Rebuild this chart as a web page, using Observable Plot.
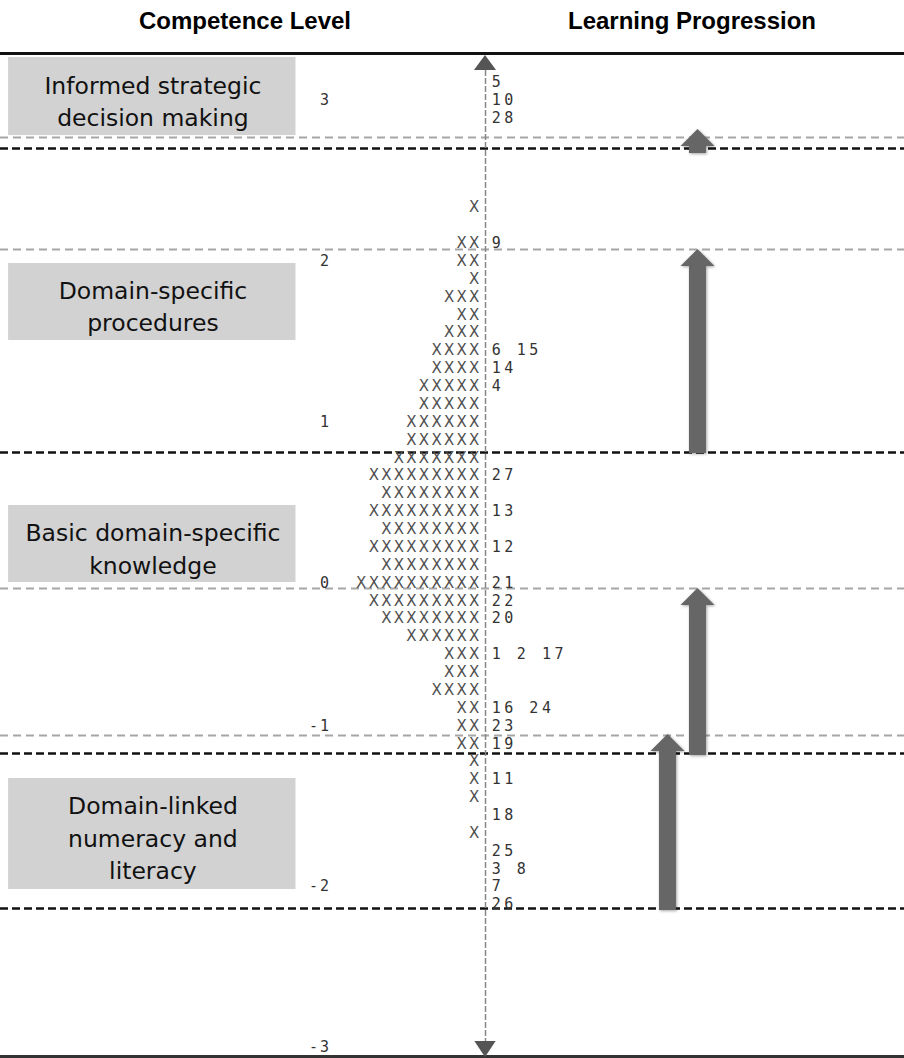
<!DOCTYPE html>
<html>
<head>
<meta charset="utf-8">
<script src="https://cdn.jsdelivr.net/npm/d3@7"></script>
<script src="https://cdn.jsdelivr.net/npm/@observablehq/plot@0.6"></script>
<style>
  html, body { margin: 0; padding: 0; background: #fff; }
  #header { position: relative; width: 904px; height: 44px; font-family: "Liberation Sans", Arial, sans-serif; font-weight: bold; font-size: 24px; color: #000; }
  #header span { position: absolute; top: 9px; line-height: 24px; transform: translateX(-50%); white-space: nowrap; }
  g[aria-description="mono"] text { letter-spacing: 3.5px; }
  g[aria-description="ticks"] text { letter-spacing: 2px; }
  g[aria-description="arrows"] { filter: drop-shadow(1px 1px 1.5px rgba(0,0,0,0.35)); }
</style>
</head>
<body>
<div id="header"><span style="left:245px">Competence Level</span><span style="left:692px">Learning Progression</span></div>
<div id="chart"></div>
<script>
// ---------- DATA (rows of the Wright map, top to bottom) ----------
// number of X's (persons) per row
const xCounts = [0,0,0,0,0,0,0,1,0,2,
                 2,1,3,2,3,4,4,5,5,6,
                 6,7,9,8,9,8,9,8,10,9,
                 8,6,3,3,4,2,2,2,1,1,
                 1,0,1,0,0,0,0];
// item numbers per row
const itemLabels = ["5","10","28","","","","","","","9",
                    "","","","","","6 15","14","4","","",
                    "","","27","","13","","12","","21","22",
                    "20","","1 2 17","","","16 24","23","19","","11",
                    "","18","","25","3 8","7","26"];
// logit tick labels and the rows they sit on
const tickRows   = [1, 10, 19, 28, 36, 45, 54];
const tickLabels = ["3", "2", "1", "0", "-1", "-2", "-3"];
// competence level boundaries (black dashed) and item thresholds (grey dashed), in rows
const levelCuts  = [3.69, 20.70, 37.55, 46.22];
const thresholds = [3.08, 9.35, 28.32, 36.54];
// competence levels
const levelNames = ["Informed strategic\ndecision making", "Domain-specific\nprocedures",
                    "Basic domain-specific\nknowledge", "Domain-linked\nnumeracy and\nliteracy"];
// learning progression arrows: from (row) -> to (row)
const arrowFrom = [3.97, 20.76, 37.66, 46.33];
const arrowTo   = [2.63, 9.35, 28.32, 36.49];

// ---------- LAYOUT ----------
const W = 904, H = 1014;
const COL = 12.55, AXIS_PX = 485;      // character column width, axis position
const ROW = 17.87, ROW0 = 38;          // row height, y of first row
const boxTop = [-1.40, 10.13, 23.67, 38.95];
const boxBottom = [2.97, 14.44, 27.98, 45.16];
const boxText = [0.95, 12.42, 26.0, 42.19];
const boxX1 = -38.0, boxX2 = -15.1, boxCx = -26.5;
const arrowCol = [16.93, 16.93, 16.93, 14.54];
const HEAD_HALF = 17 / COL, SHAFT_HALF = 8.5 / COL, HEAD_LEN = 17 / ROW;

const xMarks = xCounts.flatMap((n, r) => d3.range(n).map(k => ({row: r, col: -(k + 1) + 0.1})));
const items = itemLabels.map((s, r) => ({row: r, label: s})).filter(d => d.label);
const ticks = tickRows.map((r, i) => ({row: r, label: tickLabels[i]}));
const boxes = levelNames.map((name, i) => ({name, top: boxTop[i], bottom: boxBottom[i], mid: boxText[i]}));
const arrowPts = arrowFrom.flatMap((from, i) => {
  const c = arrowCol[i], to = arrowTo[i];
  return [
    {id: i, y: to, x1: c, x2: c},
    {id: i, y: to + HEAD_LEN, x1: c - HEAD_HALF, x2: c + HEAD_HALF},
    {id: i, y: to + HEAD_LEN, x1: c - SHAFT_HALF, x2: c + SHAFT_HALF},
    {id: i, y: from, x1: c - SHAFT_HALF, x2: c + SHAFT_HALF}
  ];
});
const triPts = [
  {id: "up", y: -1.51, x1: 0, x2: 0}, {id: "up", y: -0.67, x1: -0.88, x2: 0.88},
  {id: "down", y: 53.67, x1: -0.85, x2: 0.85}, {id: "down", y: 54.56, x1: 0, x2: 0}
];

const plot = Plot.plot({
  width: W, height: H,
  marginLeft: 0, marginRight: 0, marginTop: 0, marginBottom: 0,
  style: {background: "white", overflow: "visible"},
  x: {domain: [-AXIS_PX / COL, (W - AXIS_PX) / COL], range: [0, W], axis: null},
  y: {domain: [0, 46], range: [ROW0, ROW0 + 46 * ROW], axis: null},
  marks: [
    Plot.ruleY(thresholds, {stroke: "#a6a6a6", strokeWidth: 2, strokeDasharray: "8,5"}),
    Plot.ruleY(levelCuts, {stroke: "#111", strokeWidth: 2.5, strokeDasharray: "8,4"}),
    Plot.ruleY([-1.62], {stroke: "#111", strokeWidth: 3}),
    Plot.ruleY([54.5], {stroke: "#333", strokeWidth: 3}),
    Plot.ruleX([0], {y1: -0.67, y2: 53.67, stroke: "#888", strokeWidth: 1.5, strokeDasharray: "6,2"}),
    Plot.areaX(triPts, {y: "y", x1: "x1", x2: "x2", z: "id", fill: "#555"}),
    Plot.rect(boxes, {x1: boxX1, x2: boxX2, y1: "top", y2: "bottom", fill: "#d2d2d2"}),
    Plot.text(boxes, {x: boxCx, y: "mid", text: "name", fontFamily: "DejaVu Sans", fontSize: 23.5, lineHeight: 1.38, fill: "#111"}),
    Plot.areaX(arrowPts, {y: "y", x1: "x1", x2: "x2", z: "id", fill: "#666", ariaDescription: "arrows"}),
    Plot.text(xMarks, {x: "col", y: "row", text: () => "X", fontFamily: "DejaVu Sans", fontSize: 15, fill: "#505050"}),
    Plot.text(items, {x: 0.5, y: "row", text: "label", textAnchor: "start", fontFamily: "DejaVu Sans Mono", fontSize: 15, fill: "#333", ariaDescription: "mono"}),
    Plot.text(ticks, {x: -12.3, y: "row", text: "label", textAnchor: "end", fontFamily: "DejaVu Sans Mono", fontSize: 15, fill: "#333", ariaDescription: "ticks"})
  ]
});
document.getElementById("chart").appendChild(plot);
</script>
</body>
</html>
